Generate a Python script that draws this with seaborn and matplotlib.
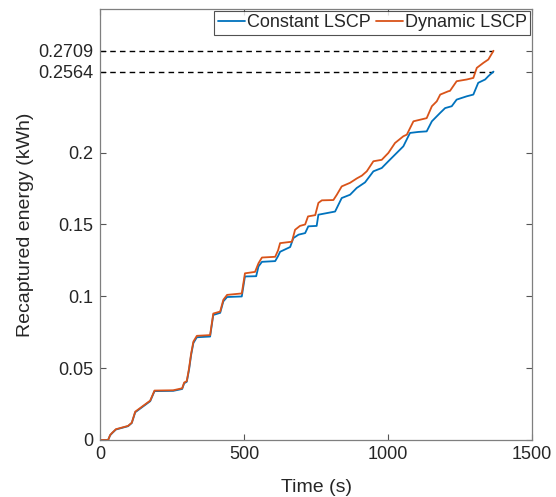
import matplotlib
matplotlib.use("Agg")
import matplotlib.pyplot as plt
import seaborn as sns
import pandas as pd

# ---- data ----
t_dynamic = [0, 28, 35, 42, 55, 97, 110, 122, 174, 189, 254, 285, 292, 301, 309, 316,
             324, 336, 382, 393, 417, 428, 441, 492, 503, 538, 550, 562, 608, 618, 625,
             666, 677, 694, 712, 722, 747, 758, 770, 810, 822, 839, 868, 891, 909, 926,
             949, 978, 1001, 1024, 1053, 1065, 1088, 1134, 1152, 1169, 1181, 1209, 1215,
             1238, 1273, 1296, 1308, 1331, 1348, 1366]
e_dynamic = [0, 0, 0.0035, 0.005, 0.0075, 0.0098, 0.012, 0.0197, 0.0274, 0.0344, 0.0346,
             0.036, 0.040, 0.041, 0.050, 0.060, 0.0685, 0.0725, 0.073, 0.088, 0.0894,
             0.0976, 0.101, 0.102, 0.116, 0.117, 0.123, 0.127, 0.1275, 0.132, 0.137,
             0.138, 0.1463, 0.149, 0.150, 0.1556, 0.1565, 0.165, 0.1668, 0.167, 0.1707,
             0.1765, 0.179, 0.182, 0.184, 0.187, 0.194, 0.195, 0.1998, 0.2067, 0.2114,
             0.2125, 0.2218, 0.224, 0.2323, 0.2357, 0.2404, 0.2427, 0.2430, 0.2497,
             0.2509, 0.252, 0.259, 0.2625, 0.2648, 0.2709]

t_constant = [0, 28, 35, 42, 55, 97, 110, 122, 174, 189, 254, 285, 292, 301, 309, 316,
              324, 336, 382, 393, 417, 428, 441, 492, 503, 542, 550, 562, 608, 618, 625,
              660, 671, 689, 712, 723, 752, 758, 816, 839, 868, 891, 920, 949, 978, 1001,
              1024, 1053, 1076, 1105, 1134, 1152, 1181, 1198, 1221, 1238, 1273, 1296,
              1313, 1337, 1348, 1366]
e_constant = [0, 0, 0.0033, 0.0048, 0.0073, 0.0096, 0.0118, 0.0193, 0.027, 0.0340, 0.0342,
              0.0355, 0.0395, 0.0405, 0.049, 0.059, 0.0675, 0.0715, 0.072, 0.087, 0.0885,
              0.0965, 0.0995, 0.0999, 0.1138, 0.114, 0.1208, 0.124, 0.1245, 0.128, 0.131,
              0.1343, 0.1405, 0.1429, 0.144, 0.1487, 0.149, 0.1568, 0.159, 0.1684, 0.1707,
              0.1754, 0.1793, 0.187, 0.1893, 0.194, 0.1986, 0.2044, 0.2137, 0.2144, 0.2148,
              0.2218, 0.2277, 0.231, 0.2323, 0.2369, 0.2392, 0.2404, 0.2486, 0.2509,
              0.2532, 0.2564]

final_constant = 0.2564
final_dynamic = 0.2709
y_ticks = [0, 0.05, 0.1, 0.15, 0.2, 0.2564, 0.2709]
y_tick_labels = ["0", "0.05", "0.1", "0.15", "0.2", "0.2564", "0.2709"]
x_ticks = [0, 500, 1000, 1500]
series_names = ["Constant LSCP", "Dynamic LSCP"]

df = pd.concat([
    pd.DataFrame({"Time": t_constant, "Energy": e_constant, "Series": series_names[0]}),
    pd.DataFrame({"Time": t_dynamic, "Energy": e_dynamic, "Series": series_names[1]}),
], ignore_index=True)

# ---- style ----
sns.set_theme(style="white")
plt.rcParams["font.family"] = ["Liberation Sans", "DejaVu Sans"]
axis_gray = "#262626"

fig = plt.figure(figsize=(5.56, 4.97), dpi=100)
ax = fig.add_axes([0.18, 0.1147, 0.777, 0.8673])

palette = {"Constant LSCP": "#0072BD", "Dynamic LSCP": "#D95319"}
sns.lineplot(data=df, x="Time", y="Energy", hue="Series", palette=palette,
             estimator=None, sort=False, linewidth=1.3, ax=ax)

t_end = max(t_dynamic)
for level in (final_constant, final_dynamic):
    ax.plot([0, t_end], [level, level], color="black", linestyle=(0, (4, 3)),
            linewidth=1.0, zorder=1)

ax.set_xlim(0, 1500)
ax.set_ylim(0, 0.3)
ax.set_xticks(x_ticks)
ax.set_xticklabels([str(v) for v in x_ticks])
ax.set_yticks(y_ticks)
ax.set_yticklabels(y_tick_labels)

ax.set_xlabel("Time (s)", fontsize=14, color=axis_gray, labelpad=12)
ax.set_ylabel("Recaptured energy (kWh)", fontsize=14, color=axis_gray, labelpad=3)

for s in ax.spines.values():
    s.set_visible(True)
    s.set_color("#7f7f7f")
    s.set_linewidth(0.9)

ax.tick_params(axis="both", which="both", direction="in", length=4, width=0.8,
               colors="#555555", labelcolor=axis_gray, labelsize=13,
               top=True, right=True, bottom=True, left=True)
ax.tick_params(axis="x", pad=4)
ax.tick_params(axis="y", pad=5)

handles, labels = ax.get_legend_handles_labels()
leg = ax.legend(handles, labels, loc="upper right", ncol=2, fontsize=13,
                frameon=True, fancybox=False, borderaxespad=0.1,
                handlelength=1.5, handletextpad=0.1, columnspacing=0.3,
                borderpad=0.2, edgecolor="#262626")
leg.get_frame().set_linewidth(0.8)

fig.savefig("out.png", dpi=100)
